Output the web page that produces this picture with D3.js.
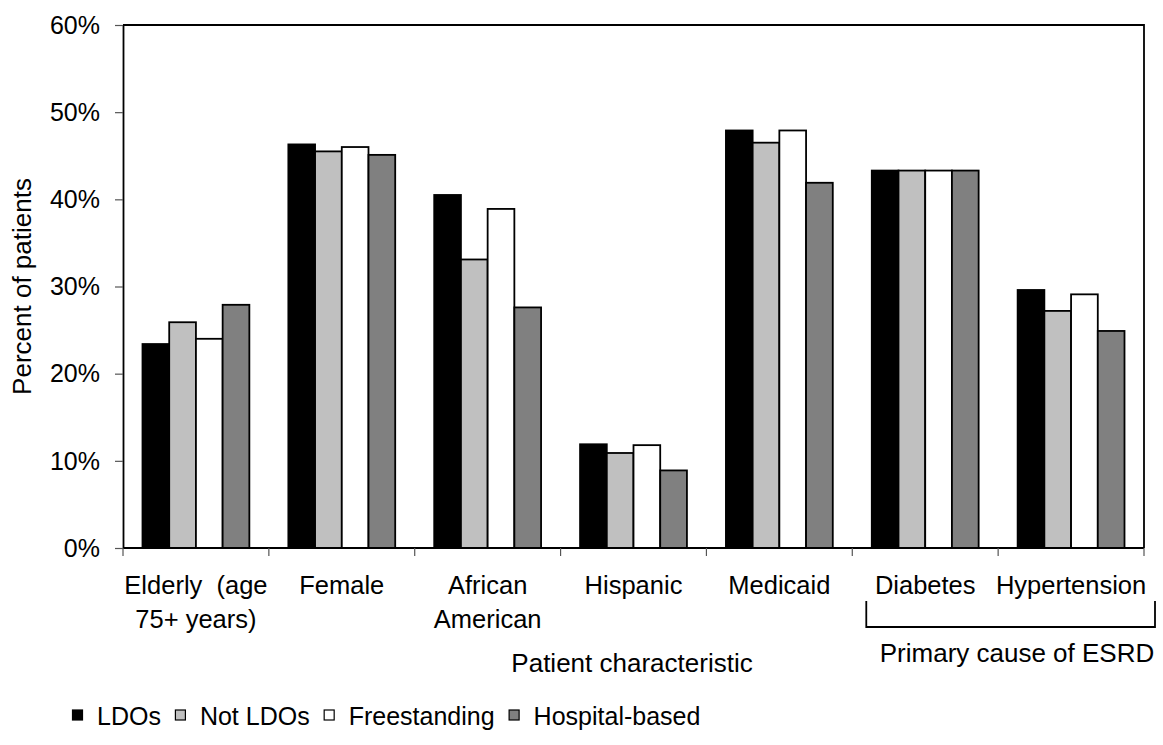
<!DOCTYPE html>
<html>
<head>
<meta charset="utf-8">
<script src="https://cdn.jsdelivr.net/npm/d3@7"></script>
<style>
  html, body { margin: 0; padding: 0; background: #fff; }
  svg { display: block; }
  text { font-family: "Liberation Sans", Arial, sans-serif; fill: #000; }
</style>
</head>
<body>
<svg id="chart" width="1163" height="745"></svg>
<script>
// ---- data ----
const categories = ["Elderly (age 75+ years)", "Female", "African American", "Hispanic", "Medicaid", "Diabetes", "Hypertension"];
const categoryLines = [["Elderly\u00a0\u00a0(age", "75+ years)"], ["Female"], ["African", "American"], ["Hispanic"], ["Medicaid"], ["Diabetes"], ["Hypertension"]];
const seriesNames = ["LDOs", "Not LDOs", "Freestanding", "Hospital-based"];
const ldos          = [0.234, 0.463, 0.405, 0.119, 0.479, 0.433, 0.296];
const notLdos       = [0.259, 0.455, 0.331, 0.109, 0.465, 0.433, 0.272];
const freestanding  = [0.240, 0.460, 0.389, 0.118, 0.479, 0.433, 0.291];
const hospitalBased = [0.279, 0.451, 0.276, 0.089, 0.419, 0.433, 0.249];
const yTicks = [0, 0.1, 0.2, 0.3, 0.4, 0.5, 0.6];
const yTickLabels = ["0%", "10%", "20%", "30%", "40%", "50%", "60%"];
const yTitle = "Percent of patients";
const groupTitle1 = "Patient characteristic";
const groupTitle2 = "Primary cause of ESRD";

// ---- layout ----
const seriesValues = [ldos, notLdos, freestanding, hospitalBased];
const fills = ["#000000", "#c0c0c0", "#ffffff", "#808080"];
const plot = { left: 123, right: 1144, top: 25, bottom: 548 };

const svg = d3.select("#chart");

const x = d3.scaleBand().domain(categories).range([plot.left, plot.right]).paddingInner(0).paddingOuter(0);
const xs = d3.scaleBand().domain(seriesNames).range([0, x.bandwidth()]).paddingInner(0).paddingOuter(0.73);
const y = d3.scaleLinear().domain([0, 0.6]).range([plot.bottom, plot.top]);

// bars
const groups = svg.append("g").selectAll("g").data(categories).join("g")
  .attr("transform", d => `translate(${x(d)},0)`);
groups.selectAll("rect")
  .data((c, i) => seriesNames.map((s, j) => ({ s, j, v: seriesValues[j][i] })))
  .join("rect")
  .attr("x", d => xs(d.s))
  .attr("y", d => y(d.v))
  .attr("width", xs.bandwidth())
  .attr("height", d => y(0) - y(d.v))
  .attr("fill", d => fills[d.j])
  .attr("stroke", "#000")
  .attr("stroke-width", 1.8);

// frame (top and right)
svg.append("path")
  .attr("d", `M${plot.left},${plot.top}H${plot.right}V${plot.bottom}`)
  .attr("fill", "none").attr("stroke", "#000").attr("stroke-width", 1.8);

// y axis
const yAxis = d3.axisLeft(y).tickValues(yTicks).tickFormat((d, i) => yTickLabels[i]).tickSizeOuter(0).tickSizeInner(8).tickPadding(15);
const gy = svg.append("g").attr("transform", `translate(${plot.left},0)`).call(yAxis);
gy.select(".domain").attr("stroke", "#000").attr("stroke-width", 1.8);
gy.selectAll(".tick line").attr("stroke", "#555").attr("stroke-width", 1.2);
gy.selectAll(".tick text").attr("font-size", 25).attr("font-family", "Liberation Sans, Arial, sans-serif").attr("fill", "#000").attr("dy", "0.33em");

// x axis with ticks at band boundaries
const gx = svg.append("g").attr("transform", `translate(0,${plot.bottom})`);
gx.append("line").attr("x1", plot.left).attr("x2", plot.right).attr("stroke", "#000").attr("stroke-width", 1.8);
const boundaries = categories.map(c => x(c)).concat([x(categories[categories.length - 1]) + x.bandwidth()]);
gx.selectAll("line.tk").data(boundaries).join("line").attr("class", "tk")
  .attr("x1", d => d).attr("x2", d => d).attr("y1", 0).attr("y2", 8)
  .attr("stroke", "#555").attr("stroke-width", 1.2);

// category labels
const lab = svg.append("g").selectAll("text").data(categories).join("text")
  .attr("text-anchor", "middle").attr("font-size", 25.5)
  .attr("transform", d => `translate(${x(d) + x.bandwidth() / 2},594)`);
lab.selectAll("tspan").data((d, i) => categoryLines[i]).join("tspan")
  .attr("x", 0).attr("dy", (d, k) => k === 0 ? 0 : 34).text(d => d);

// group titles
svg.append("text").attr("x", 632).attr("y", 672).attr("text-anchor", "middle").attr("font-size", 26).text(groupTitle1);
const bx0 = x("Diabetes") + 14, bx1 = plot.right + 11;
svg.append("path").attr("d", `M${bx0},601V627H${bx1}V601`).attr("fill", "none").attr("stroke", "#000").attr("stroke-width", 1.8);
svg.append("text").attr("x", 1017).attr("y", 662).attr("text-anchor", "middle").attr("font-size", 26).text(groupTitle2);

// y title
svg.append("text").attr("transform", `translate(31,${(plot.top + plot.bottom) / 2}) rotate(-90)`)
  .attr("text-anchor", "middle").attr("font-size", 26).text(yTitle);

// legend
const leg = svg.append("g").attr("transform", "translate(72,725)");
let cx = 0;
seriesNames.forEach((s, j) => {
  leg.append("rect").attr("x", cx + 0.5).attr("y", -15).attr("width", 10).attr("height", 10)
    .attr("fill", fills[j]).attr("stroke", "#000").attr("stroke-width", 1.2);
  const t = leg.append("text").attr("x", cx + 25).attr("y", 0).attr("font-size", 25).text(s);
  cx += 25 + t.node().getComputedTextLength() + 14;
});
</script>
</body>
</html>
